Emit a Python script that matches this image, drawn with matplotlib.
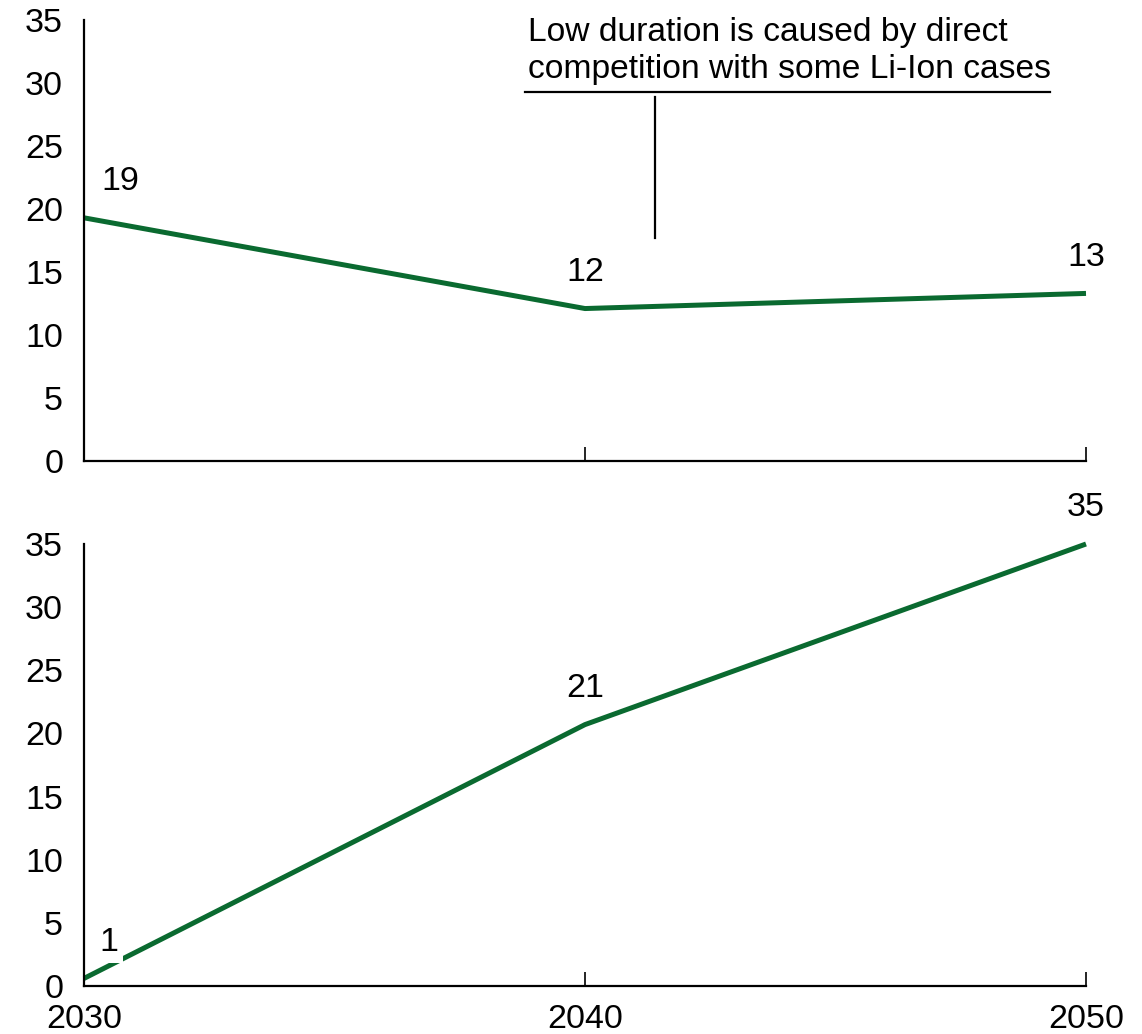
import matplotlib
matplotlib.use("Agg")
import matplotlib.pyplot as plt
from matplotlib.lines import Line2D

plt.rcParams['font.family'] = ['Liberation Sans', 'DejaVu Sans']

years = [2030, 2040, 2050]
top_values = [19.3, 12.1, 13.3]
top_labels = ["19", "12", "13"]
bottom_values = [0.6, 20.7, 35.0]
bottom_labels = ["1", "21", "35"]
yticks = [0, 5, 10, 15, 20, 25, 30, 35]
annotation = "Low duration is caused by direct\ncompetition with some Li-Ion cases"

green = "#0A6A30"
W, H = 1142, 1034
fig = plt.figure(figsize=(W / 100, H / 100), dpi=100)

left = 84 / W
width = (1086 - 84) / W
ax1 = fig.add_axes([left, 1 - 461 / H, width, (461 - 20) / H])
ax2 = fig.add_axes([left, 1 - 986 / H, width, (986 - 544) / H])

FS = 24.5
for ax, vals, labs in [(ax1, top_values, top_labels), (ax2, bottom_values, bottom_labels)]:
    ax.plot(years, vals, color=green, lw=3.6, solid_capstyle='butt', clip_on=False, zorder=2)
    ax.set_xlim(2030, 2050)
    ax.set_ylim(0, 35)
    ax.set_yticks(yticks)
    ax.set_xticks(years)
    for s in ['top', 'right']:
        ax.spines[s].set_visible(False)
    for s in ['left', 'bottom']:
        ax.spines[s].set_linewidth(1.6)
        ax.spines[s].set_color('black')
    ax.tick_params(axis='y', length=0, pad=15, labelsize=FS)
    ax.tick_params(axis='x', direction='in', length=10, width=1.2, pad=13, labelsize=FS)
    for i, (x, v, lab) in enumerate(zip(years, vals, labs)):
        dx = 36 if i == 0 else 0
        kw = {}
        if lab == "1":
            kw = dict(bbox=dict(facecolor='white', edgecolor='none', pad=3.5))
            dx = 25
        ax.annotate(lab, (x, v), xytext=(dx, 36), textcoords='offset pixels',
                    ha='center', va='center', fontsize=FS, zorder=3, **kw)

ax1.tick_params(axis='x', labelbottom=False)

# annotation callout
fig.text(528 / W, 1 - 51 / H, annotation, ha='left', va='center', fontsize=24.2,
         linespacing=1.22)
fig.add_artist(Line2D([525 / W, 1050 / W], [1 - 92 / H, 1 - 92 / H], color='black', lw=1.6))
fig.add_artist(Line2D([655 / W, 655 / W], [1 - 97 / H, 1 - 238 / H], color='black', lw=1.6))

fig.savefig("out.png", dpi=100)
